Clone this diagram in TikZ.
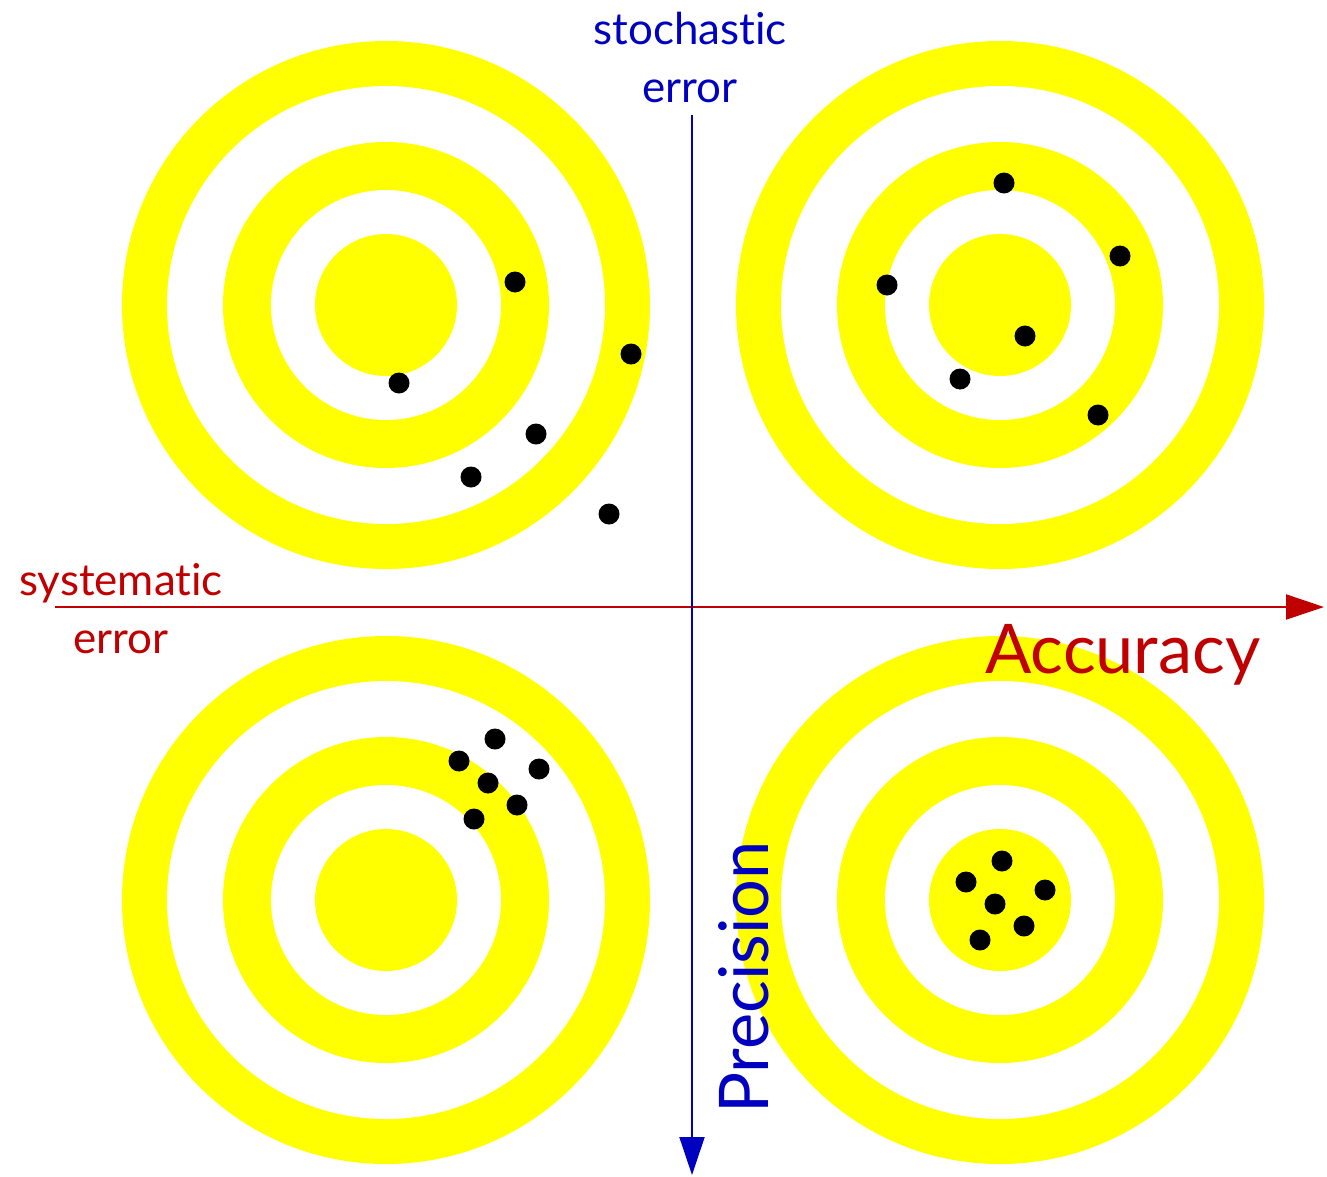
\documentclass[tikz,border=0pt]{standalone}
\usepackage{fontspec}
\setmainfont{Lato}[RawFeature={-liga;-clig;-calt;-dlig}]
\usetikzlibrary{arrows.meta}
\definecolor{TargetYellow}{HTML}{FFFF00}
\definecolor{AxisRed}{HTML}{C00000}
\definecolor{AxisBlue}{HTML}{0000C0}
\tikzset{
  ring/.style={fill=TargetYellow},
  gap/.style={fill=white},
  shot/.style={fill=black},
  axis/.style={line width=1.15pt, -{Triangle[length=7.6mm, width=5mm]}},
  accaxis/.style={axis, draw=AxisRed, fill=AxisRed},
  precaxis/.style={axis, draw=AxisBlue, fill=AxisBlue},
  smalllabel/.style={align=center, inner sep=0pt,
                     font=\fontsize{25}{33}\selectfont},
  biglabel/.style={inner sep=0pt, font=\fontsize{39}{42}\selectfont}
}

\begin{document}
\begin{tikzpicture}[x=0.02cm, y=-0.02cm]
  \useasboundingbox (0,0) rectangle (1327,1176);

  % the four targets
  \foreach \cx/\cy in {386/305, 1000/305, 386/900, 1000/900} {
    \fill[ring] (\cx,\cy) circle[radius=264];
    \fill[gap]  (\cx,\cy) circle[radius=219];
    \fill[ring] (\cx,\cy) circle[radius=163];
    \fill[gap]  (\cx,\cy) circle[radius=115];
    \fill[ring] (\cx,\cy) circle[radius=71];
  }

  % hits
  \foreach \hx/\hy in {515/282, 631/354, 399/383, 536/434, 471/477, 609/514,
                       1004/183, 1120/256, 887/285, 1025/336, 960/379, 1098/415,
                       495/739, 459/761, 539/769, 488/783, 517/805, 474/819,
                       1002/861, 966/882, 1045/890, 995/904, 1024/926, 980/940}
    \fill[shot] (\hx,\hy) circle[radius=10.5];

  % axes
  \coordinate (accstart) at (55,607);
  \coordinate (accend) at (1324,607);
  \coordinate (precstart) at (692,115);
  \coordinate (precend) at (692,1175);
  \draw[accaxis] (accstart) -- (accend);
  \draw[precaxis] (precstart) -- (precend);

  % labels
  \node[smalllabel, text=AxisRed] (syserr) at (121,609) {systematic\\error};
  \node[smalllabel, text=AxisBlue] (stocherr) at (690,57) {stochastic\\error};
  \node[biglabel, text=AxisRed, anchor=base west] (accuracy) at (985,673) {Accuracy};
  \node[biglabel, text=AxisBlue, anchor=base west, rotate=90] (precision) at (768,1114) {Precision};
\end{tikzpicture}
\end{document}
